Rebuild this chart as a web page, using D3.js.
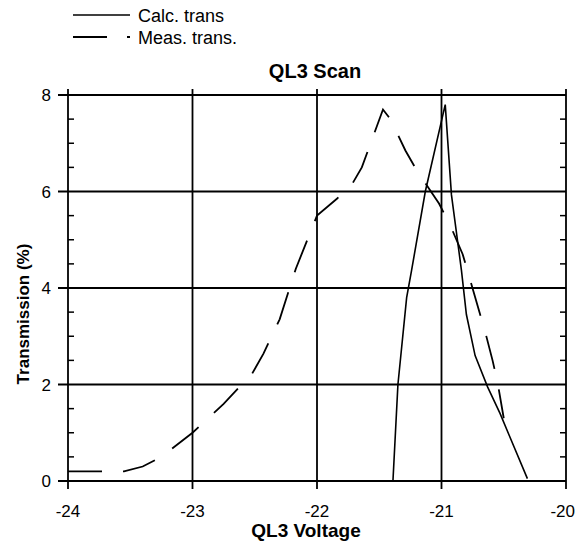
<!DOCTYPE html>
<html>
<head>
<meta charset="utf-8">
<script src="https://cdn.jsdelivr.net/npm/d3@7"></script>
<style>
  body { margin: 0; background: #fff; }
  svg { font-family: "Liberation Sans", Arial, sans-serif; }
</style>
</head>
<body>
<div id="chart"></div>
<script>
// Calculated transmission (solid)
const calcVoltage = [-21.39, -21.35, -21.28, -21.24, -21.13, -20.97, -20.92, -20.84, -20.8, -20.73, -20.63, -20.53, -20.31];
const calcTrans   = [0, 2, 3.8, 4.37, 6, 7.8, 5.93, 4.37, 3.45, 2.6, 1.95, 1.4, 0.05];

// Measured transmission (dashed)
const measVoltage = [-24, -23.7, -23.55, -23.4, -23.25, -23.0, -22.75, -22.52, -22.43, -22.3, -22.17, -22.0, -21.84, -21.73, -21.64, -21.47, -21.41, -21.29, -21.19, -21.02, -20.93, -20.83, -20.65, -20.59, -20.55, -20.5];
const measTrans   = [0.2, 0.2, 0.2, 0.3, 0.5, 1.0, 1.6, 2.23, 2.64, 3.35, 4.4, 5.5, 5.85, 6.1, 6.5, 7.7, 7.5, 6.85, 6.4, 5.75, 5.3, 4.7, 3.1, 2.5, 2.05, 1.3];

const xTicks = [-24, -23, -22, -21, -20];
const yTicks = [0, 2, 4, 6, 8];
const yMinor = d3.range(0, 8.01, 0.5).filter(v => v % 2 !== 0);

const width = 575, height = 550;
const margin = { left: 68, right: 9, top: 95, bottom: 69 };

const svg = d3.select('#chart').append('svg')
  .attr('width', width)
  .attr('height', height);

const x = d3.scaleLinear().domain([-24, -20]).range([margin.left, width - margin.right]);
const y = d3.scaleLinear().domain([0, 8]).range([height - margin.bottom, margin.top]);

const grid = svg.append('g').attr('stroke', '#000').attr('stroke-width', 1.8);

// horizontal gridlines, extending past left axis as major ticks
grid.selectAll('line.h')
  .data(yTicks)
  .join('line')
  .attr('x1', x(-24) - 10)
  .attr('x2', x(-20))
  .attr('y1', d => y(d))
  .attr('y2', d => y(d));

// vertical gridlines, extending below as major ticks
grid.selectAll('line.v')
  .data(xTicks)
  .join('line')
  .attr('x1', d => x(d))
  .attr('x2', d => x(d))
  .attr('y1', y(8) - 6)
  .attr('y2', y(0) + 8);

// minor ticks on left and right axes, pointing inward
const minor = svg.append('g').attr('stroke', '#000').attr('stroke-width', 1.5);
minor.selectAll('line.l')
  .data(yMinor)
  .join('line')
  .attr('x1', x(-24))
  .attr('x2', x(-24) + 6)
  .attr('y1', d => y(d))
  .attr('y2', d => y(d));
minor.selectAll('line.r')
  .data(yMinor)
  .join('line')
  .attr('x1', x(-20))
  .attr('x2', x(-20) - 6)
  .attr('y1', d => y(d))
  .attr('y2', d => y(d));

// tick labels
svg.selectAll('text.xt')
  .data(xTicks)
  .join('text')
  .attr('x', d => x(d))
  .attr('y', y(0) + 36)
  .attr('text-anchor', d => d === -20 ? 'end' : 'middle')
  .attr('dx', d => d === -20 ? 9 : 0)
  .attr('font-size', 17)
  .text(d => d);

svg.selectAll('text.yt')
  .data(yTicks)
  .join('text')
  .attr('x', x(-24) - 17)
  .attr('y', d => y(d) + 6)
  .attr('text-anchor', 'end')
  .attr('font-size', 17)
  .text(d => d);

// data lines
const line = d3.line().x(d => x(d[0])).y(d => y(d[1]));

svg.append('path')
  .datum(calcVoltage.map((v, i) => [v, calcTrans[i]]))
  .attr('d', line)
  .attr('fill', 'none')
  .attr('stroke', '#000')
  .attr('stroke-width', 1.6);

svg.append('path')
  .datum(measVoltage.map((v, i) => [v, measTrans[i]]))
  .attr('d', line)
  .attr('fill', 'none')
  .attr('stroke', '#000')
  .attr('stroke-width', 1.8)
  .attr('stroke-dasharray', '34,21');

// title and axis labels
svg.append('text')
  .attr('x', 315)
  .attr('y', 78)
  .attr('text-anchor', 'middle')
  .attr('font-size', 20)
  .attr('font-weight', 'bold')
  .text('QL3 Scan');

svg.append('text')
  .attr('x', 306)
  .attr('y', 537)
  .attr('text-anchor', 'middle')
  .attr('font-size', 19)
  .attr('font-weight', 'bold')
  .text('QL3 Voltage');

svg.append('text')
  .attr('transform', 'translate(29,314) rotate(-90)')
  .attr('text-anchor', 'middle')
  .attr('font-size', 17)
  .attr('font-weight', 'bold')
  .text('Transmission (%)');

// legend
const legend = svg.append('g');
legend.append('line')
  .attr('x1', 73).attr('x2', 130)
  .attr('y1', 15).attr('y2', 15)
  .attr('stroke', '#000').attr('stroke-width', 1.6);
legend.append('text')
  .attr('x', 138).attr('y', 22)
  .attr('font-size', 18)
  .text('Calc. trans');
legend.append('line')
  .attr('x1', 73).attr('x2', 130)
  .attr('y1', 37).attr('y2', 37)
  .attr('stroke', '#000').attr('stroke-width', 1.8)
  .attr('stroke-dasharray', '34,20');
legend.append('text')
  .attr('x', 138).attr('y', 44)
  .attr('font-size', 18)
  .text('Meas. trans.');
</script>
</body>
</html>
